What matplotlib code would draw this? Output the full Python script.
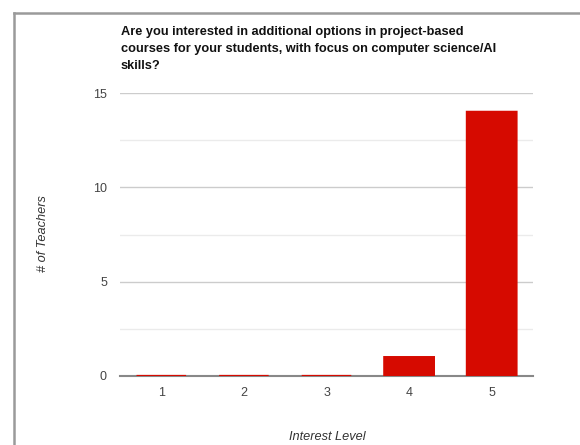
import matplotlib
matplotlib.use("Agg")
import matplotlib.pyplot as plt
from matplotlib.lines import Line2D
from matplotlib.ticker import MultipleLocator

plt.rcParams['font.family'] = ['Liberation Sans', 'DejaVu Sans']

categories = ["1", "2", "3", "4", "5"]
teachers = [0, 0, 0, 1, 14]

title = ("Are you interested in additional options in project-based\n"
         "courses for your students, with focus on computer science/AI\n"
         "skills?")

W, H = 580, 445
fig = plt.figure(figsize=(W / 100, H / 100), dpi=100)
ax = fig.add_axes([120 / W, 1 - 376 / H, 413 / W, 283 / H])

x = list(range(len(categories)))
ax.bar(x, teachers, width=0.6, color="#d60a00", edgecolor="#d60a00",
       linewidth=1.6, zorder=4, snap=False)

ax.set_xlim(-0.5, len(categories) - 0.5)
ax.set_ylim(0, 15)
ax.yaxis.set_major_locator(MultipleLocator(5))
ax.yaxis.set_minor_locator(MultipleLocator(2.5))
ax.set_xticks(x)
ax.set_xticklabels(categories)

ax.grid(axis="y", which="major", color="#cccccc", linewidth=1, zorder=0)
ax.grid(axis="y", which="minor", color="#ebebeb", linewidth=1, zorder=0)

for side in ("top", "right", "left"):
    ax.spines[side].set_visible(False)
ax.spines["bottom"].set_color("#888888")
ax.spines["bottom"].set_linewidth(1.5)
ax.spines["bottom"].set_zorder(2)

ax.tick_params(axis="both", which="both", length=0, colors="#444444",
               labelsize=9)
ax.tick_params(axis="y", pad=9.4)
ax.tick_params(axis="x", pad=8)

# axis titles placed in figure coordinates
fig.text(327 / W, 1 - 437 / H, "Interest Level", fontstyle="italic",
         fontsize=9.2, color="#333333", ha="center", va="center")
fig.text(43 / W, 1 - 234 / H, "# of Teachers", fontstyle="italic",
         fontsize=9.2, color="#333333", ha="center", va="center", rotation=90)

fig.text(121 / W, 1 - 26 / H, title, ha="left", va="top",
         fontsize=9.2, fontweight="bold", color="#111111", linespacing=1.55)

# outer frame (top and left edges)
fig.add_artist(Line2D([14 / W, 1.0], [1 - 13 / H, 1 - 13 / H],
                      transform=fig.transFigure, color="#9a9a9a", linewidth=1.8))
fig.add_artist(Line2D([14 / W, 14 / W], [1 - 13 / H, 0.0],
                      transform=fig.transFigure, color="#9a9a9a", linewidth=1.8))

fig.savefig("out.png", dpi=100)
